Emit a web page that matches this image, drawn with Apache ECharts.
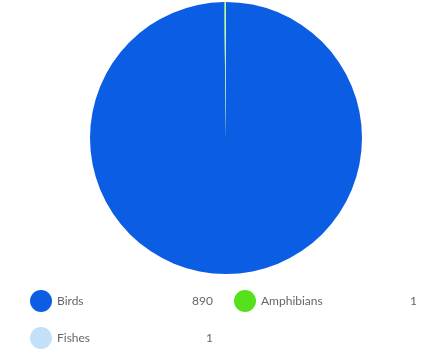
<!DOCTYPE html>
<html>
<head>
<meta charset="utf-8">
<script src="https://cdn.jsdelivr.net/npm/echarts@6/dist/echarts.min.js"></script>
<style>
html,body{margin:0;padding:0;background:#fff;}
#piechart{width:434px;height:353px;}
</style>
</head>
<body>
<div id="piechart"></div>
<script>
var categories = ['Birds', 'Amphibians', 'Fishes'];
var counts = [890, 1, 1];
var colors = ['#0b5ee3', '#55e11c', '#c2e1f8'];
// which legend column each category sits in
var leftColumn = ['Birds', 'Fishes'];
var rightColumn = ['Amphibians'];

var pieData = [];
for (var i = 0; i < categories.length; i++) {
  pieData.push({ name: categories[i], value: counts[i] });
}

function legendFormatter(name) {
  var idx = categories.indexOf(name);
  return '{n|' + name + '}{v|' + counts[idx] + '}';
}

function makeLegend(left, names) {
  return {
    left: left,
    top: 290,
    padding: 0,
    orient: 'vertical',
    data: names,
    icon: 'circle',
    itemWidth: 22,
    itemHeight: 22,
    itemGap: 15,
    selectedMode: false,
    formatter: legendFormatter,
    textStyle: {
      fontFamily: 'Lato',
      fontSize: 12,
      color: '#666',
      rich: {
        n: { width: 120, fontFamily: 'Lato', fontSize: 12, color: '#666' },
        v: { width: 36, align: 'right', fontFamily: 'Lato', fontSize: 12, color: '#666' }
      }
    }
  };
}

var chart = echarts.init(document.getElementById('piechart'), null, { renderer: 'canvas' });
var option = {
  animation: false,
  backgroundColor: '#fff',
  color: colors,
  legend: [makeLegend(30, leftColumn), makeLegend(234, rightColumn)],
  series: [
    {
      type: 'pie',
      center: [226, 138],
      radius: 136,
      startAngle: 90,
      clockwise: true,
      label: { show: false },
      labelLine: { show: false },
      itemStyle: { borderWidth: 0 },
      emphasis: { disabled: true },
      data: pieData
    }
  ]
};
chart.setOption(option);
</script>
</body>
</html>
